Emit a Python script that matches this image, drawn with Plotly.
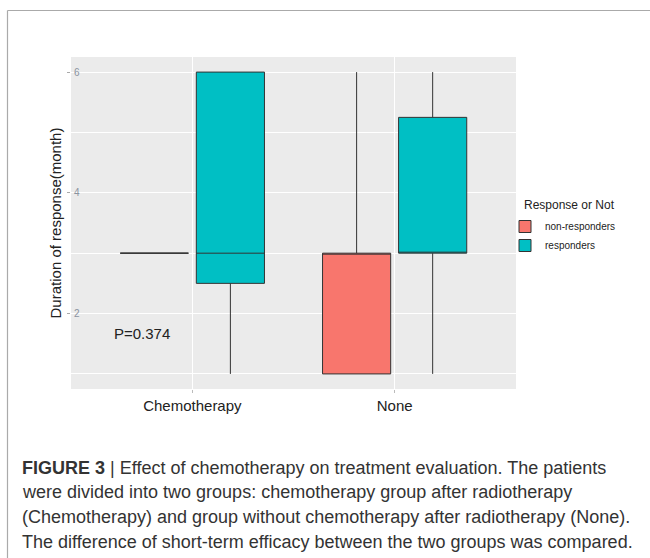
import plotly.graph_objects as go

categories = ["Chemotherapy", "None"]
groups = ["non-responders", "responders"]
q1 = {"non-responders": [3, 1], "responders": [2.5, 3]}
median = {"non-responders": [3, 3], "responders": [3, 3]}
q3 = {"non-responders": [3, 3], "responders": [6, 5.25]}
lowerfence = {"non-responders": [3, 1], "responders": [1, 1]}
upperfence = {"non-responders": [3, 6], "responders": [6, 6]}
colors = {"non-responders": "#F8766D", "responders": "#00BFC4"}
y_ticks = [2, 4, 6]
y_ticktext = ["2", "4", "6"]
p_text = "P=0.374"
legend_title = "Response or Not"
caption_lines = [
    "<b>FIGURE 3</b> | Effect of chemotherapy on treatment evaluation. The patients",
    "were divided into two groups: chemotherapy group after radiotherapy",
    "(Chemotherapy) and group without chemotherapy after radiotherapy (None).",
    "The difference of short-term efficacy between the two groups was compared.",
]

W, H = 650, 558
L, R, T, B = 71, 516, 57, 389  # plot area in px
pw, ph = R - L, B - T

def px(x):
    return (x - L) / pw

def py(y):
    return (B - y) / ph

fig = go.Figure()
for g in groups:
    fig.add_trace(go.Box(
        x=categories, q1=q1[g], median=median[g], q3=q3[g],
        lowerfence=lowerfence[g], upperfence=upperfence[g],
        name=g, fillcolor=colors[g],
        line=dict(color="#333333", width=1),
        whiskerwidth=0, boxpoints=False, offsetgroup=g,
    ))

fig.update_layout(
    width=W, height=H,
    margin=dict(l=L, r=W - R, t=T, b=H - B, autoexpand=False),
    paper_bgcolor="white", plot_bgcolor="#EBEBEB",
    boxmode="group", boxgap=0.248, boxgroupgap=0.104,
    font=dict(family="Liberation Sans, Arial, sans-serif", color="#222222"),
    legend=dict(
        font=dict(size=10, color="#222"),
        x=px(505), y=py(212), xanchor="left", yanchor="top",
        bgcolor="rgba(0,0,0,0)", itemwidth=30, tracegroupgap=0,
    ),
    showlegend=True,
)
fig.add_annotation(x=px(522), y=py(205), xref="paper", yref="paper",
                   text=legend_title, showarrow=False, xanchor="left", yanchor="middle",
                   font=dict(size=12, color="#222"))
fig.update_xaxes(
    type="category", categoryorder="array", categoryarray=categories,
    range=[-0.6, 1.6], showgrid=True, gridcolor="white", gridwidth=1.2,
    zeroline=False, ticks="outside", ticklen=3, tickcolor="#BBBBBB",
    tickfont=dict(size=15, color="#222"), showline=False,
)
fig.update_yaxes(
    range=[0.75, 6.25], tickvals=y_ticks, ticktext=y_ticktext,
    showgrid=True, gridcolor="white", gridwidth=1.2, zeroline=False,
    ticks="outside", ticklen=3, tickcolor="#AAAAAA",
    ticklabelposition="inside", tickfont=dict(size=10, color="#8A93A0"),
    minor=dict(tickvals=[1, 3, 5], showgrid=True, gridcolor="white", gridwidth=0.6),
    title=dict(text="Duration of response(month)", font=dict(size=15, color="#222"), standoff=8),
    automargin=False,
)

fig.add_annotation(x=px(142), y=py(333), xref="paper", yref="paper",
                   text=p_text, showarrow=False, font=dict(size=15, color="#222"),
                   xanchor="center", yanchor="middle")

# border of the figure box
fig.add_shape(type="line", xref="paper", yref="paper",
              x0=px(7.5), x1=px(7.5), y0=py(10.5), y1=py(560),
              line=dict(color="#AAAAAA", width=1.2))
fig.add_shape(type="line", xref="paper", yref="paper",
              x0=px(7.5), x1=px(652), y0=py(10.5), y1=py(10.5),
              line=dict(color="#AAAAAA", width=1.2))

for line, ypos in zip(caption_lines, [468, 492, 517, 542]):
    fig.add_annotation(x=px(20), y=py(ypos), xref="paper", yref="paper",
                       text=line, showarrow=False, xanchor="left", yanchor="middle",
                       font=dict(size=18, color="#333333", family="Liberation Sans, Arial, sans-serif"))

fig.write_html("out.html")
